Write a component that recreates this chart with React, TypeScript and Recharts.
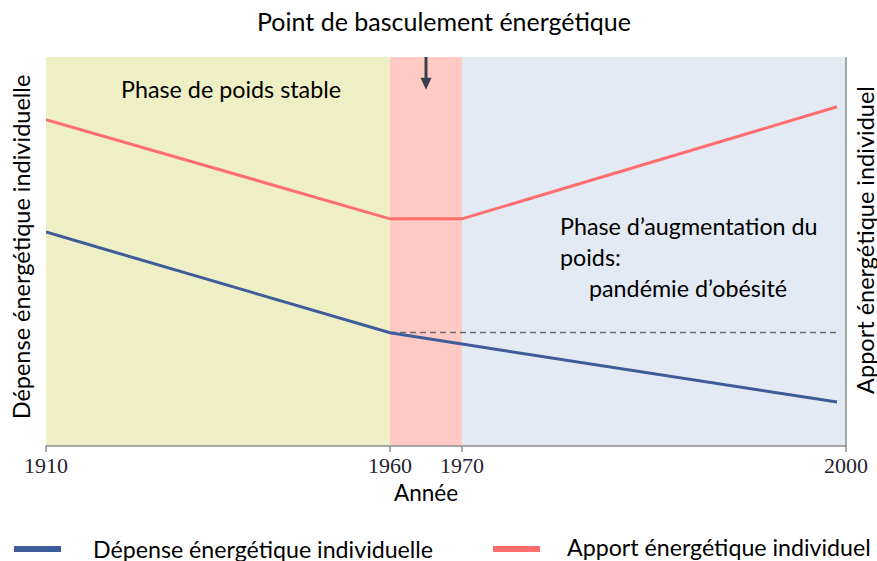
import { Line, LineChart, ReferenceArea, ReferenceLine, XAxis, YAxis } from 'recharts';
import type { CSSProperties } from 'react';

// stretched time axis: year breakpoints and where they sit on the axis (0..100)
const YEAR_BREAKS = [1910, 1960, 1970, 2000];
const AXIS_BREAKS = [0, 43, 52, 100];
const TICK_YEARS = [1910, 1960, 1970, 2000];

const YEARS = [1910, 1960, 1970, 1999.3];
const APPORT = [83.9, 58.4, 58.4, 87.2];
const DEPENSE = [55.0, 29.1, 26.2, 11.3];

const BASELINE_YEARS = [1960, 1999.3];
const BASELINE = [29.2, 29.2];

const PHASE_START = [1910, 1960, 1970];
const PHASE_END = [1960, 1970, 2000];
const PHASE_COLORS = ['#EFEFC6', '#FFCAC3', '#E4EAF3'];

const ARROW_YEAR = 1965;
const ARROW_FROM = 100;
const ARROW_TO = 91.6;

const BLUE = '#3E5B9A';
const RED = '#FF6E6E';
const AXIS = '#8c8c8c';
const FONT = 'Lato, "Open Sans", sans-serif';

function toAxis(year: number) {
  for (let i = 1; i < YEAR_BREAKS.length; i++) {
    if (year <= YEAR_BREAKS[i]) {
      const t = (year - YEAR_BREAKS[i - 1]) / (YEAR_BREAKS[i] - YEAR_BREAKS[i - 1]);
      return AXIS_BREAKS[i - 1] + t * (AXIS_BREAKS[i] - AXIS_BREAKS[i - 1]);
    }
  }
  return AXIS_BREAKS[AXIS_BREAKS.length - 1];
}

const apportData = YEARS.map((yr, i) => ({ x: toAxis(yr), y: APPORT[i] }));
const depenseData = YEARS.map((yr, i) => ({ x: toAxis(yr), y: DEPENSE[i] }));
const baselineData = BASELINE_YEARS.map((yr, i) => ({ x: toAxis(yr), y: BASELINE[i] }));
const tickPositions = TICK_YEARS.map(toAxis);

function YearTick(props: any) {
  const { x, y, index } = props;
  return (
    <text
      x={x}
      y={y + 3}
      dy="0.71em"
      textAnchor="middle"
      fontFamily='"Liberation Serif", serif'
      fontSize={22}
      fill="#1f2430"
    >
      {TICK_YEARS[index]}
    </text>
  );
}

function ArrowShape(props: any) {
  const { x1, y1, x2, y2 } = props;
  return (
    <g>
      <line x1={x1} y1={y1} x2={x2} y2={y2 - 10} stroke="#36404a" strokeWidth={3} />
      <path d={`M${x2 - 5.5},${y2 - 12} L${x2 + 5.5},${y2 - 12} L${x2},${y2} Z`} fill="#36404a" />
    </g>
  );
}

const text = (left: number, top: number, size: number, extra: CSSProperties = {}): CSSProperties => ({
  position: 'absolute',
  left,
  top,
  fontFamily: FONT,
  fontSize: size,
  lineHeight: 1,
  whiteSpace: 'nowrap',
  color: '#000',
  transform: 'translate(-50%, -50%)',
  ...extra,
});

export default function App() {
  return (
    <div style={{ position: 'absolute', left: 0, top: 0, width: 877, height: 561, background: '#fff', overflow: 'hidden' }}>
      <LineChart width={877} height={561} margin={{ top: 57, right: 31, left: 46, bottom: 85 }}>
        {PHASE_START.map((s, i) => (
          <ReferenceArea
            key={s}
            x1={toAxis(s)}
            x2={toAxis(PHASE_END[i])}
            y1={0}
            y2={100}
            fill={PHASE_COLORS[i]}
            fillOpacity={1}
            stroke="none"
          />
        ))}
        <XAxis
          type="number"
          dataKey="x"
          domain={[0, 100]}
          ticks={tickPositions}
          tick={<YearTick />}
          tickSize={6}
          height={30}
          axisLine={{ stroke: AXIS, strokeWidth: 1.5 }}
          tickLine={{ stroke: AXIS, strokeWidth: 1.5 }}
          allowDataOverflow
        />
        <YAxis
          type="number"
          domain={[0, 100]}
          width={0}
          tick={false}
          tickLine={false}
          axisLine={{ stroke: AXIS, strokeWidth: 1.5 }}
        />
        <ReferenceLine x={100} stroke={AXIS} strokeWidth={1.5} />
        <ReferenceLine
          segment={[
            { x: toAxis(ARROW_YEAR), y: ARROW_FROM },
            { x: toAxis(ARROW_YEAR), y: ARROW_TO },
          ]}
          shape={<ArrowShape />}
        />
        <Line
          data={baselineData}
          dataKey="y"
          type="linear"
          stroke="#6b6b6b"
          strokeWidth={1.5}
          strokeDasharray="6 4"
          dot={false}
          isAnimationActive={false}
        />
        <Line
          data={apportData}
          dataKey="y"
          type="linear"
          stroke={RED}
          strokeWidth={3}
          dot={false}
          isAnimationActive={false}
        />
        <Line
          data={depenseData}
          dataKey="y"
          type="linear"
          stroke={BLUE}
          strokeWidth={3}
          dot={false}
          isAnimationActive={false}
        />
      </LineChart>

      <div style={text(444, 21, 25)}>Point de basculement énergétique</div>
      <div style={text(426, 493, 22.5)}>Année</div>
      <div style={text(22, 247, 23.5, { transform: 'translate(-50%, -50%) rotate(-90deg)' })}>
        Dépense énergétique individuelle
      </div>
      <div style={text(866, 240, 23.5, { transform: 'translate(-50%, -50%) rotate(-90deg)' })}>
        Apport énergétique individuel
      </div>
      <div style={text(231, 90, 23.3)}>Phase de poids stable</div>
      <div style={text(560, 227, 23.3, { transform: 'translate(0, -50%)' })}>Phase d’augmentation du</div>
      <div style={text(560, 258, 23.3, { transform: 'translate(0, -50%)' })}>poids:</div>
      <div style={text(688, 289, 23.3)}>pandémie d’obésité</div>

      <div style={{ position: 'absolute', left: 14, top: 546, width: 47, height: 6, background: BLUE }} />
      <div style={text(93, 550, 23.2, { transform: 'translate(0, -50%)' })}>Dépense énergétique individuelle</div>
      <div style={{ position: 'absolute', left: 493, top: 546, width: 47, height: 6, background: RED }} />
      <div style={text(567, 548, 23.2, { transform: 'translate(0, -50%)' })}>Apport énergétique individuel</div>
    </div>
  );
}
